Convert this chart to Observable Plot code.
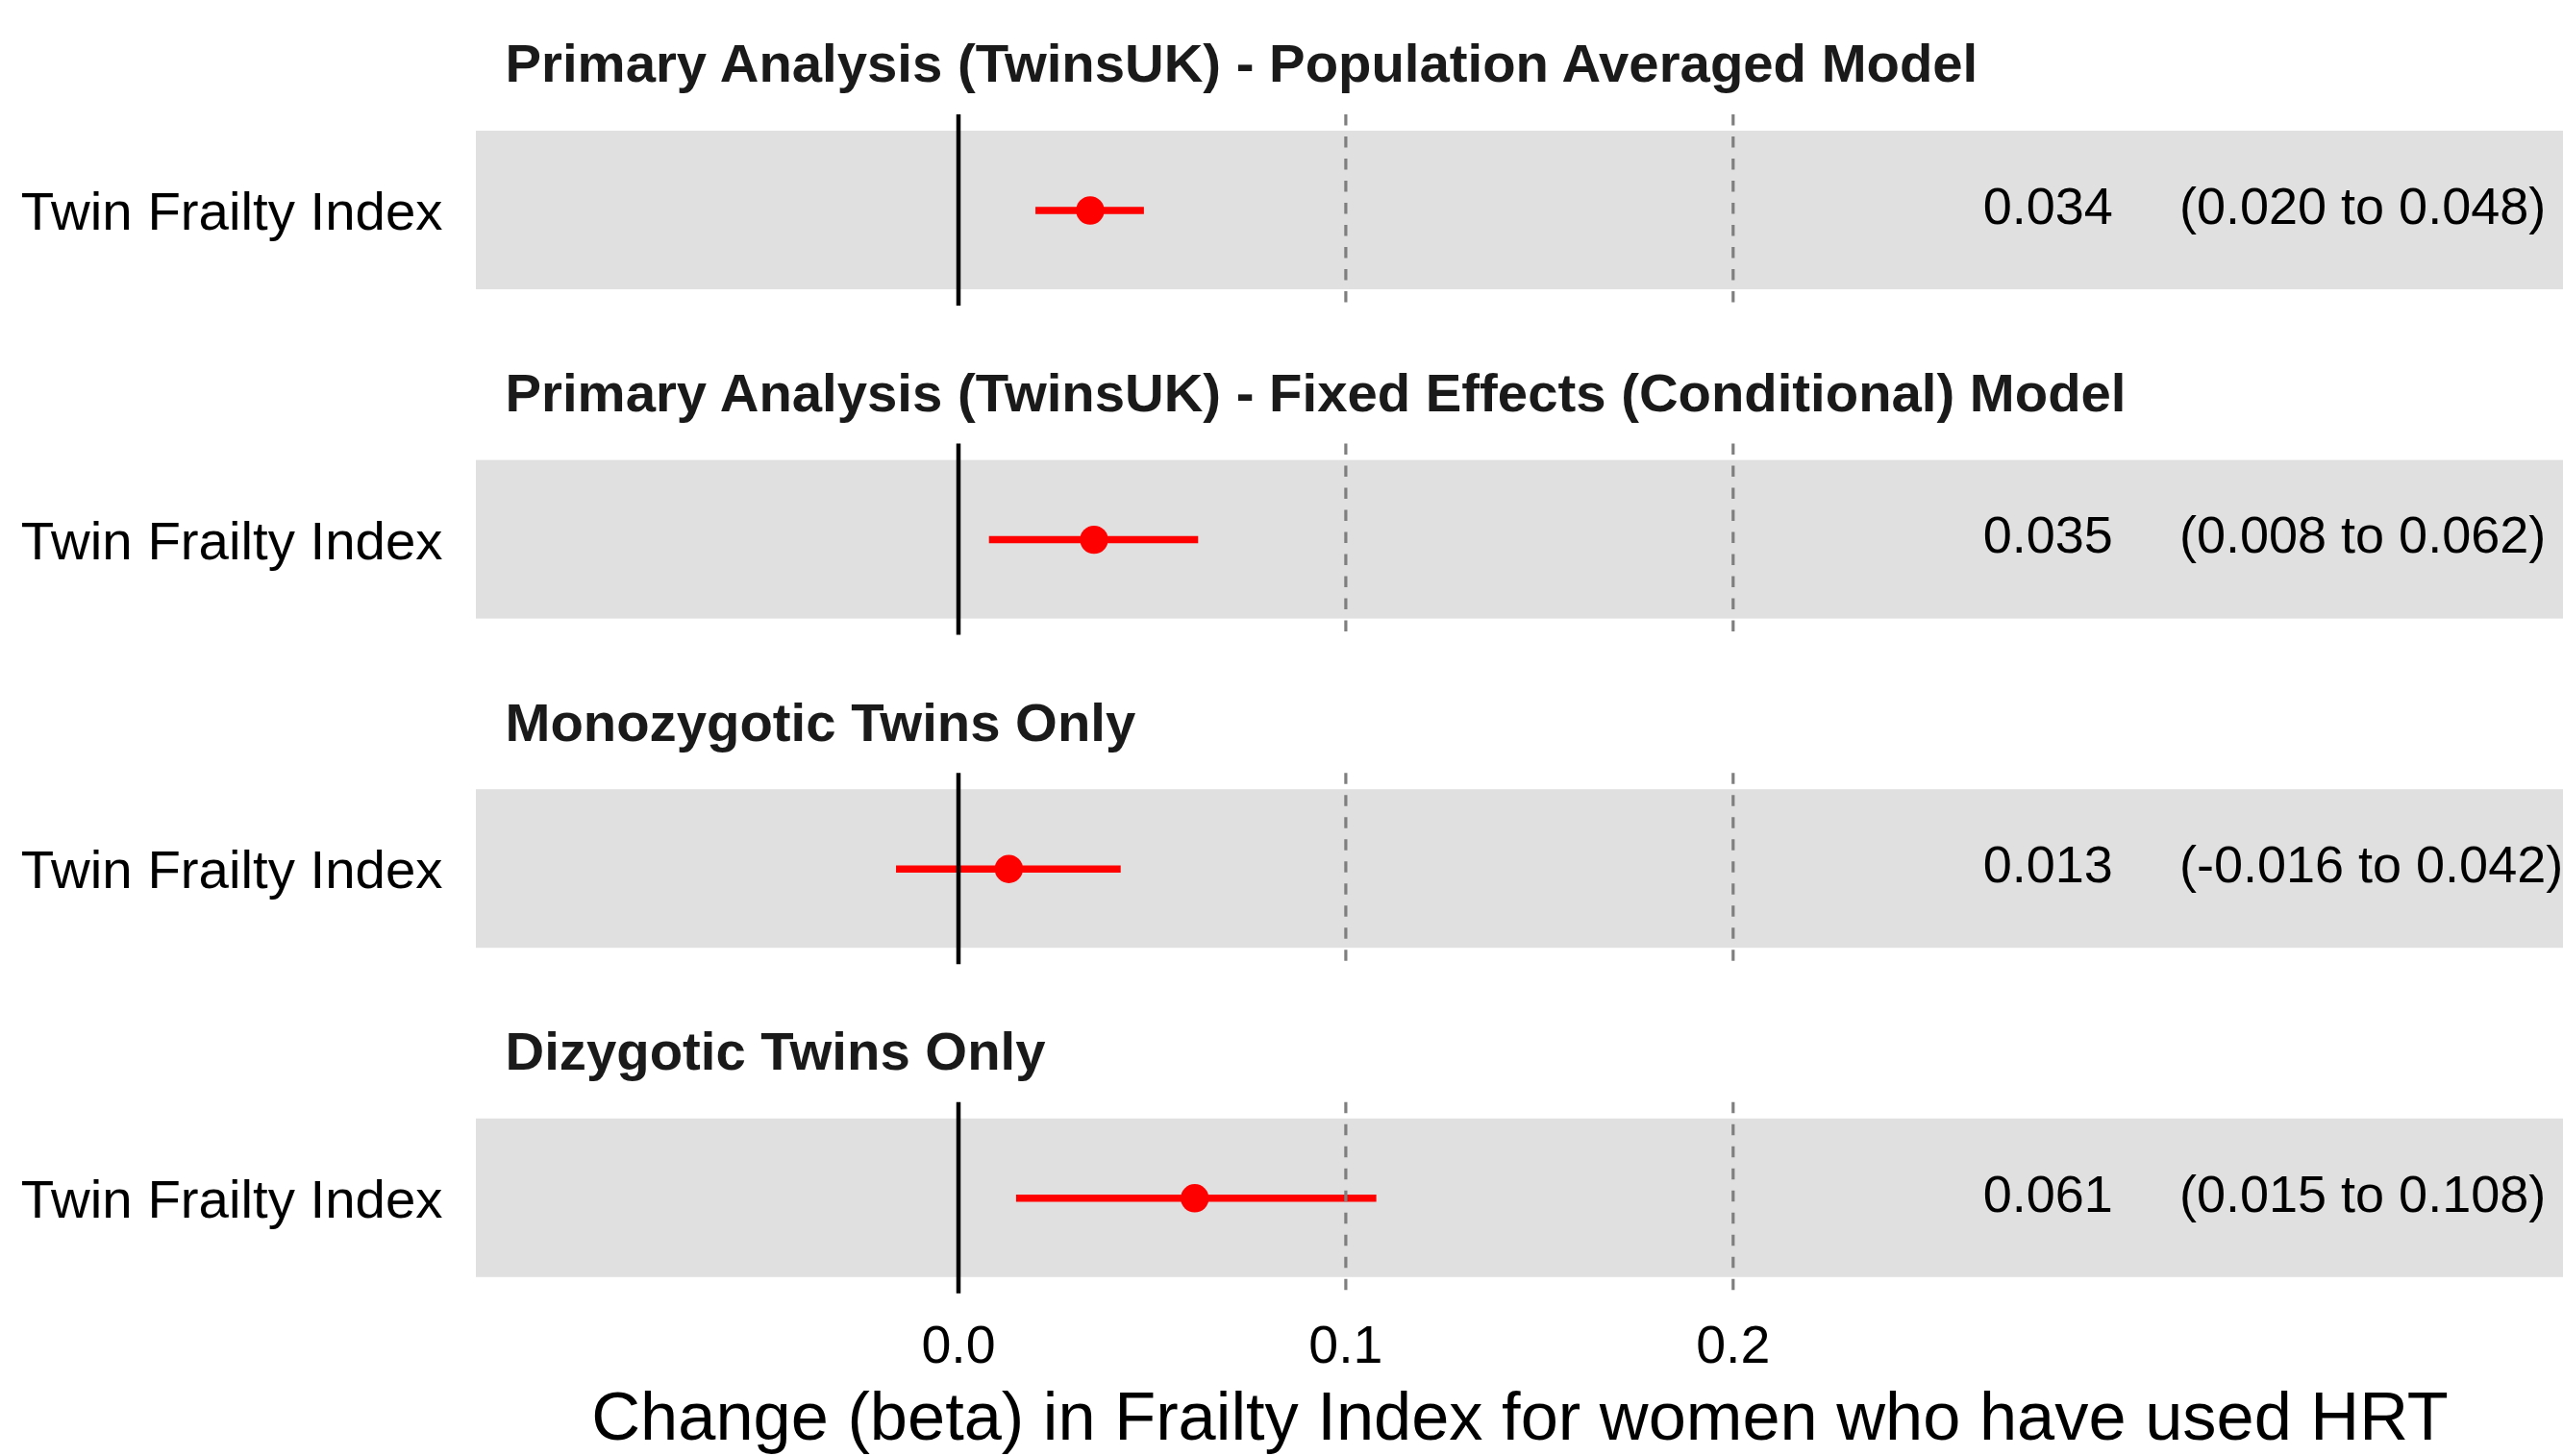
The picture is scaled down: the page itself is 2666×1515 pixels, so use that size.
<!DOCTYPE html>
<html>
<head>
<meta charset="utf-8">
<script src="https://cdn.jsdelivr.net/npm/d3@7"></script>
<script src="https://cdn.jsdelivr.net/npm/@observablehq/plot@0.6"></script>
<style>
  html, body { margin: 0; padding: 0; background: #ffffff; }
  #chart { width: 2666px; height: 1515px; }
</style>
</head>
<body>
<div id="chart"></div>
<script>
// ---- Data ----
const panelTitles = [
  "Primary Analysis (TwinsUK) - Population Averaged Model",
  "Primary Analysis (TwinsUK) - Fixed Effects (Conditional) Model",
  "Monozygotic Twins Only",
  "Dizygotic Twins Only"
];
const outcomes = ["Twin Frailty Index", "Twin Frailty Index", "Twin Frailty Index", "Twin Frailty Index"];
const estimates = [0.034, 0.035, 0.013, 0.061];
const lowerCI = [0.020, 0.008, -0.016, 0.015];
const upperCI = [0.048, 0.062, 0.042, 0.108];
const estimateLabels = ["0.034", "0.035", "0.013", "0.061"];
const ciLabels = ["(0.020 to 0.048)", "(0.008 to 0.062)", "(-0.016 to 0.042)", "(0.015 to 0.108)"];
const xTicks = [0, 0.1, 0.2];
const dashedRefs = [0.1, 0.2];
const nullRef = [0];
const xTitle = "Change (beta) in Frailty Index for women who have used HRT";

// ---- Build tables ----
const rows = panelTitles.map((title, i) => ({
  i, title, outcome: outcomes[i], est: estimates[i], lo: lowerCI[i], hi: upperCI[i],
  estLabel: estimateLabels[i], ciLabel: ciLabels[i]
}));
const dashedRows = rows.flatMap(r => dashedRefs.map(x => ({i: r.i, x})));
const nullRows = rows.flatMap(r => nullRef.map(x => ({i: r.i, x})));

const xDomain = [-0.12447, 0.41437];
const bandHalf = 0.2408;   // grey band half-height (in panel units)
const lineHalf = 0.2904;   // reference line half-height
const font = "'Liberation Sans', Arial, Helvetica, sans-serif";

const chart = Plot.plot({
  width: 2666,
  height: 1515,
  marginLeft: 495,
  marginRight: 0,
  marginTop: 0,
  marginBottom: 169,
  x: {domain: xDomain},
  y: {domain: [-0.6378, 3.291], reverse: true},
  style: {fontFamily: font, background: "#ffffff", color: "#000000"},
  marks: [
    // grey panel bands
    Plot.rect(rows, {
      x1: () => xDomain[0], x2: () => xDomain[1],
      y1: d => d.i - bandHalf, y2: d => d.i + bandHalf,
      fill: "#e0e0e0"
    }),
    // error bars
    Plot.ruleY(rows, {y: "i", x1: "lo", x2: "hi", stroke: "#ff0000", strokeWidth: 7.5}),
    // point estimates
    Plot.dot(rows, {x: "est", y: "i", r: 14.7, fill: "#ff0000", stroke: "none"}),
    // dashed reference lines
    Plot.ruleX(dashedRows, {
      x: "x", y1: d => d.i - lineHalf, y2: d => d.i + lineHalf,
      stroke: "#7f7f7f", strokeWidth: 3.2, strokeDasharray: "11.5,11.5"
    }),
    // null line
    Plot.ruleX(nullRows, {
      x: "x", y1: d => d.i - lineHalf, y2: d => d.i + lineHalf,
      stroke: "#000000", strokeWidth: 4.5
    }),
    // estimate and CI text
    Plot.text(rows, {
      x: () => 0.2645, y: "i", text: "estLabel", textAnchor: "start",
      fontSize: 54, fill: "#000000", dy: -3.5
    }),
    Plot.text(rows, {
      x: () => 0.3152, y: "i", text: "ciLabel", textAnchor: "start",
      fontSize: 54, fill: "#000000", dy: -3.5
    }),
    // panel titles
    Plot.text(rows, {
      frameAnchor: "left", y: "i", text: "title", textAnchor: "start",
      dx: 30, dy: -151.6, fontSize: 56.3, fontWeight: "bold", fill: "#1a1a1a"
    }),
    // axes
    Plot.axisY({
      ticks: [0, 1, 2, 3], tickFormat: i => outcomes[i], tickSize: 0, tickPadding: 35,
      fontSize: 56.4, fill: "#000000", label: null, dy: 2
    }),
    Plot.axisX({
      ticks: xTicks, tickFormat: d3.format(".1f"), tickSize: 0, tickPadding: 32,
      fontSize: 55.5, fill: "#000000", label: null
    }),
    Plot.axisX({
      ticks: [], label: xTitle, labelAnchor: "center", labelArrow: "none",
      labelOffset: 151, fontSize: 70.4, fill: "#000000"
    })
  ]
});

document.getElementById("chart").appendChild(chart);
</script>
</body>
</html>
